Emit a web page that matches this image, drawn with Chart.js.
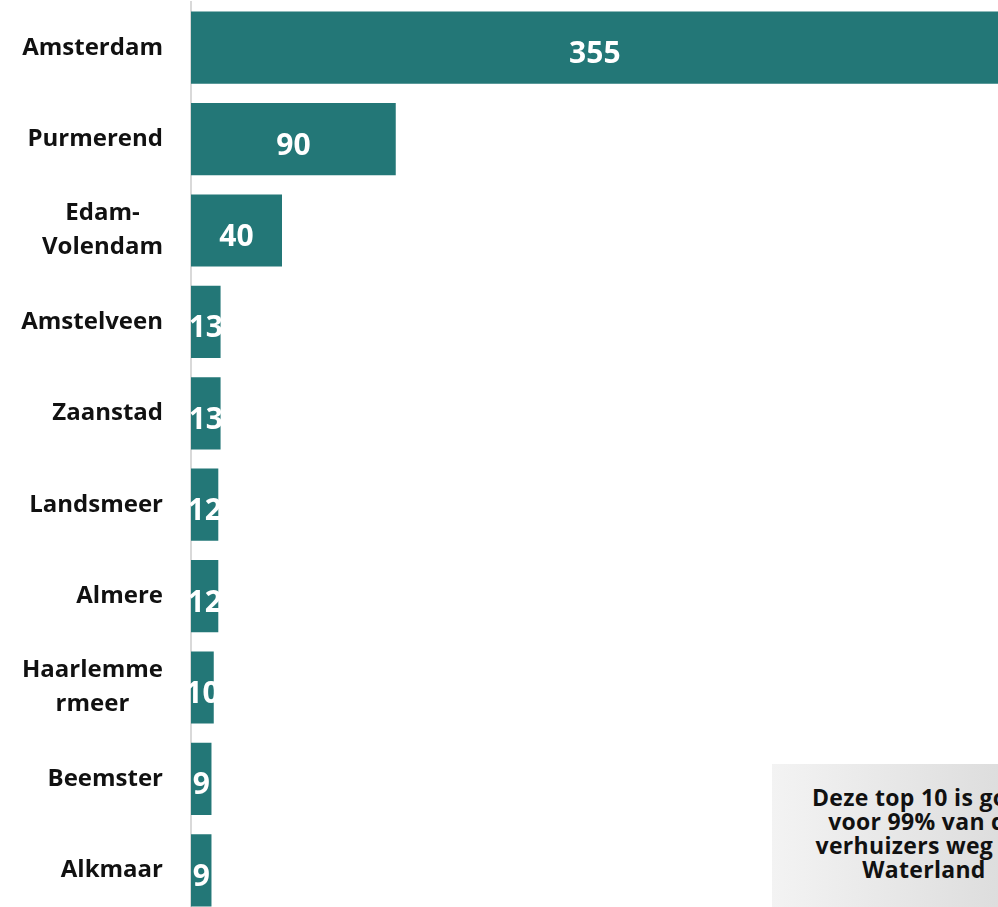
<!DOCTYPE html>
<html>
<head>
<meta charset="utf-8">
<script src="https://cdn.jsdelivr.net/npm/chart.js@4/dist/chart.umd.min.js"></script>
<style>
  html, body { margin: 0; padding: 0; overflow: hidden; background: #fff; }
  #wrap { position: absolute; left: 0; top: 0; width: 1010px; height: 916px; }
  #note {
    position: absolute; left: 772px; top: 764px; width: 304px; height: 160px;
    background: linear-gradient(to right, #f3f3f3, #d6d6d6);
    font-family: "Open Sans", sans-serif; font-weight: bold; font-size: 23px;
    line-height: 24px; text-align: center; color: #111; padding-top: 21px; box-sizing: border-box;
    letter-spacing: 0.3px;
  }
</style>
</head>
<body>
<div id="wrap"><canvas id="myChart"></canvas></div>
<div id="note">Deze top 10 is goed<br>voor 99% van de<br>verhuizers weg uit<br>Waterland</div>
<script>
// gemeenten waar verhuizers uit Waterland heen gaan
let places = [['Amsterdam'], ['Purmerend'], ['Edam-', 'Volendam'], ['Amstelveen'], ['Zaanstad'],
  ['Landsmeer'], ['Almere'], ['Haarlemme', 'rmeer'], ['Beemster'], ['Alkmaar']];
let movers = [355, 90, 40, 13, 13, 12, 12, 10, 9, 9];

let barColor = '#237777';

// draws the category names, multi line ones centered on each other
const sideLabels = {
  id: 'sideLabels',
  afterDraw(chart) {
    let ctx = chart.ctx;
    let yScale = chart.scales.y;
    ctx.save();
    ctx.font = 'bold 24px "Open Sans"';
    ctx.fillStyle = '#111';
    ctx.textBaseline = 'middle';
    ctx.textAlign = 'center';
    for (let i = 0; i < places.length; i++) {
      let lines = places[i];
      let maxW = 0;
      for (let l of lines) maxW = Math.max(maxW, ctx.measureText(l).width);
      let cx = 163 - maxW / 2;
      let y = yScale.getPixelForValue(i);
      let lh = 34;
      let y0 = y - (lines.length - 1) * lh / 2;
      for (let k = 0; k < lines.length; k++) {
        ctx.fillText(lines[k], cx, y0 + k * lh);
      }
    }
    ctx.restore();
  }
};

// white value in the middle of each bar
const barValues = {
  id: 'barValues',
  afterDatasetsDraw(chart) {
    let ctx = chart.ctx;
    let meta = chart.getDatasetMeta(0);
    ctx.save();
    ctx.font = 'bold 30px "Open Sans"';
    ctx.fillStyle = '#fff';
    ctx.textAlign = 'center';
    ctx.textBaseline = 'middle';
    meta.data.forEach((bar, i) => {
      let x = (bar.x + bar.base) / 2;
      ctx.fillText(movers[i], x, bar.y + 7);
    });
    ctx.restore();
  }
};

let canvasChart = document.getElementById('myChart');
let chart = new Chart(canvasChart, {
  type: 'bar',
  data: {
    labels: places,
    datasets: [{
      data: movers,
      backgroundColor: barColor,
      barPercentage: 0.79,
      categoryPercentage: 1
    }]
  },
  options: {
    indexAxis: 'y',
    responsive: true,
    maintainAspectRatio: false,
    animation: false,
    layout: { padding: { top: 2, left: 0, right: 0, bottom: 0 } },
    plugins: { legend: { display: false }, tooltip: { enabled: false } },
    scales: {
      x: { display: false, min: 0, max: 360 },
      y: {
        ticks: { display: false },
        grid: { display: false },
        border: { display: true, color: '#d9d9d9', width: 2 },
        afterFit(scale) { scale.width = 191; }
      }
    }
  },
  plugins: [sideLabels, barValues]
});
</script>
</body>
</html>
